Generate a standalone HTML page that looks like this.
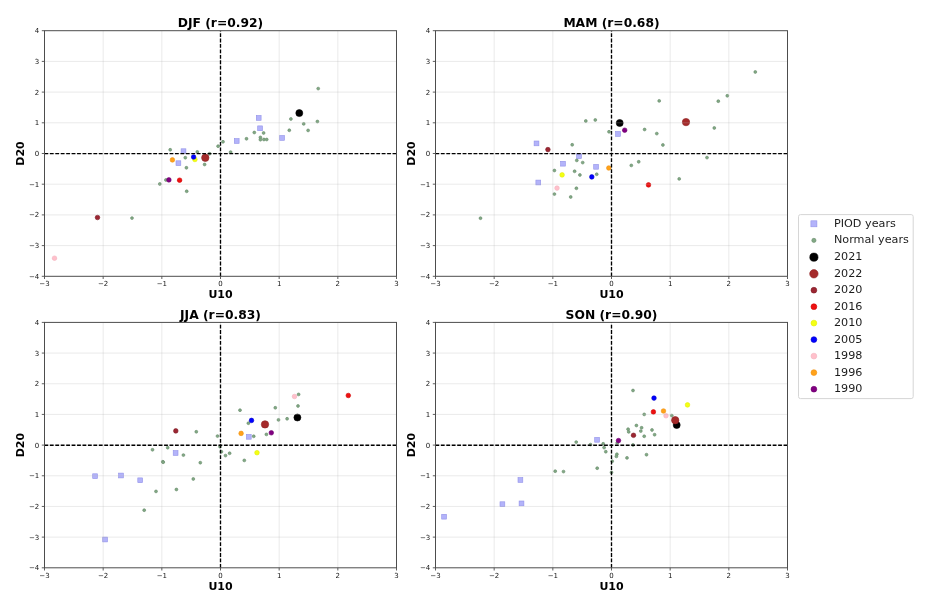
<!DOCTYPE html><html><head><meta charset="utf-8"><title>Scatter U10 vs D20</title><style>html,body{margin:0;padding:0;background:#fff;}svg{display:block;}</style></head><body>
<svg width="927" height="610" viewBox="0 0 927 610" font-family="&quot;DejaVu Sans&quot;, &quot;Liberation Sans&quot;, sans-serif">
<rect x="0" y="0" width="927" height="610" fill="#ffffff"/>
<rect x="181.1" y="148.8" width="4.8" height="4.8" fill="#b3b3fa" stroke="#9292e8" stroke-width="0.6"/>
<rect x="176" y="160.8" width="4.8" height="4.8" fill="#b3b3fa" stroke="#9292e8" stroke-width="0.6"/>
<rect x="234.3" y="138.6" width="4.8" height="4.8" fill="#b3b3fa" stroke="#9292e8" stroke-width="0.6"/>
<rect x="256.3" y="115.5" width="4.8" height="4.8" fill="#b3b3fa" stroke="#9292e8" stroke-width="0.6"/>
<rect x="257.7" y="125.9" width="4.8" height="4.8" fill="#b3b3fa" stroke="#9292e8" stroke-width="0.6"/>
<rect x="279.7" y="135.5" width="4.8" height="4.8" fill="#b3b3fa" stroke="#9292e8" stroke-width="0.6"/>
<circle cx="170.2" cy="149.8" r="1.45" fill="#82a985" stroke="#66896a" stroke-width="0.6"/>
<circle cx="197.3" cy="151.9" r="1.45" fill="#82a985" stroke="#66896a" stroke-width="0.6"/>
<circle cx="209.6" cy="153.7" r="1.45" fill="#82a985" stroke="#66896a" stroke-width="0.6"/>
<circle cx="218.1" cy="146.2" r="1.45" fill="#82a985" stroke="#66896a" stroke-width="0.6"/>
<circle cx="223" cy="141.8" r="1.45" fill="#82a985" stroke="#66896a" stroke-width="0.6"/>
<circle cx="230.6" cy="152.1" r="1.45" fill="#82a985" stroke="#66896a" stroke-width="0.6"/>
<circle cx="246.5" cy="138.8" r="1.45" fill="#82a985" stroke="#66896a" stroke-width="0.6"/>
<circle cx="254.3" cy="132.5" r="1.45" fill="#82a985" stroke="#66896a" stroke-width="0.6"/>
<circle cx="263.6" cy="133" r="1.45" fill="#82a985" stroke="#66896a" stroke-width="0.6"/>
<circle cx="260.4" cy="137.4" r="1.45" fill="#82a985" stroke="#66896a" stroke-width="0.6"/>
<circle cx="260.4" cy="139.7" r="1.45" fill="#82a985" stroke="#66896a" stroke-width="0.6"/>
<circle cx="263.9" cy="139.5" r="1.45" fill="#82a985" stroke="#66896a" stroke-width="0.6"/>
<circle cx="266.7" cy="139.5" r="1.45" fill="#82a985" stroke="#66896a" stroke-width="0.6"/>
<circle cx="290.9" cy="119" r="1.45" fill="#82a985" stroke="#66896a" stroke-width="0.6"/>
<circle cx="303.7" cy="123.9" r="1.45" fill="#82a985" stroke="#66896a" stroke-width="0.6"/>
<circle cx="317.4" cy="121.5" r="1.45" fill="#82a985" stroke="#66896a" stroke-width="0.6"/>
<circle cx="289.3" cy="130.3" r="1.45" fill="#82a985" stroke="#66896a" stroke-width="0.6"/>
<circle cx="308.1" cy="130.4" r="1.45" fill="#82a985" stroke="#66896a" stroke-width="0.6"/>
<circle cx="318.2" cy="88.6" r="1.45" fill="#82a985" stroke="#66896a" stroke-width="0.6"/>
<circle cx="185.3" cy="157.7" r="1.45" fill="#82a985" stroke="#66896a" stroke-width="0.6"/>
<circle cx="186.4" cy="167.8" r="1.45" fill="#82a985" stroke="#66896a" stroke-width="0.6"/>
<circle cx="204.6" cy="164.5" r="1.45" fill="#82a985" stroke="#66896a" stroke-width="0.6"/>
<circle cx="159.8" cy="184" r="1.45" fill="#82a985" stroke="#66896a" stroke-width="0.6"/>
<circle cx="165.9" cy="180" r="1.45" fill="#82a985" stroke="#66896a" stroke-width="0.6"/>
<circle cx="186.7" cy="191.3" r="1.45" fill="#82a985" stroke="#66896a" stroke-width="0.6"/>
<circle cx="132" cy="218.1" r="1.45" fill="#82a985" stroke="#66896a" stroke-width="0.6"/>
<circle cx="299.3" cy="113.1" r="3.5" fill="#000000" stroke="#000000" stroke-width="0.6"/>
<circle cx="205.3" cy="157.8" r="3.7" fill="#a52a2a" stroke="#8f2325" stroke-width="0.6"/>
<circle cx="97.5" cy="217.5" r="2.3" fill="#9c2632" stroke="#7e1c26" stroke-width="0.6"/>
<circle cx="179.6" cy="180.2" r="2.3" fill="#ee1111" stroke="#d00000" stroke-width="0.6"/>
<circle cx="194.9" cy="159.5" r="2.3" fill="#f4ff14" stroke="#e2ee00" stroke-width="0.6"/>
<circle cx="193.6" cy="157" r="2.3" fill="#0000ff" stroke="#0000cc" stroke-width="0.6"/>
<circle cx="54.5" cy="258.2" r="2.3" fill="#ffc0cb" stroke="#f3b3c0" stroke-width="0.6"/>
<circle cx="172.4" cy="159.9" r="2.3" fill="#ffa21a" stroke="#f09010" stroke-width="0.6"/>
<circle cx="168.9" cy="179.9" r="2.3" fill="#800080" stroke="#700070" stroke-width="0.6"/>
<path d="M103.17 30.7V276.3M161.83 30.7V276.3M220.5 30.7V276.3M279.17 30.7V276.3M337.83 30.7V276.3" stroke="#b0b0b0" stroke-opacity="0.3" stroke-width="0.9" fill="none"/>
<path d="M44.5 245.6H396.5M44.5 214.9H396.5M44.5 184.2H396.5M44.5 153.5H396.5M44.5 122.8H396.5M44.5 92.1H396.5M44.5 61.4H396.5" stroke="#b0b0b0" stroke-opacity="0.3" stroke-width="0.9" fill="none"/>
<path d="M44.42 153.65H396.5" stroke="#000" stroke-width="1.35" stroke-dasharray="3.8 1.64" fill="none"/>
<path d="M220.5 276.3V30.7" stroke="#000" stroke-width="1.35" stroke-dasharray="3.8 1.64" fill="none"/>
<rect x="44.5" y="30.7" width="352" height="245.6" fill="none" stroke="#4d4d4d" stroke-width="1"/>
<path d="M44.5 276.3v2.7M103.17 276.3v2.7M161.83 276.3v2.7M220.5 276.3v2.7M279.17 276.3v2.7M337.83 276.3v2.7M396.5 276.3v2.7M44.5 276.3h-2.7M44.5 245.6h-2.7M44.5 214.9h-2.7M44.5 184.2h-2.7M44.5 153.5h-2.7M44.5 122.8h-2.7M44.5 92.1h-2.7M44.5 61.4h-2.7M44.5 30.7h-2.7" stroke="#4d4d4d" stroke-width="0.9" fill="none"/>
<g font-size="7" fill="#141414">
<text x="44.5" y="286.1" text-anchor="middle">−3</text>
<text x="103.17" y="286.1" text-anchor="middle">−2</text>
<text x="161.83" y="286.1" text-anchor="middle">−1</text>
<text x="220.5" y="286.1" text-anchor="middle">0</text>
<text x="279.17" y="286.1" text-anchor="middle">1</text>
<text x="337.83" y="286.1" text-anchor="middle">2</text>
<text x="396.5" y="286.1" text-anchor="middle">3</text>
<text x="39.3" y="278.85" text-anchor="end">−4</text>
<text x="39.3" y="248.15" text-anchor="end">−3</text>
<text x="39.3" y="217.45" text-anchor="end">−2</text>
<text x="39.3" y="186.75" text-anchor="end">−1</text>
<text x="39.3" y="156.05" text-anchor="end">0</text>
<text x="39.3" y="125.35" text-anchor="end">1</text>
<text x="39.3" y="94.65" text-anchor="end">2</text>
<text x="39.3" y="63.95" text-anchor="end">3</text>
<text x="39.3" y="33.25" text-anchor="end">4</text>
</g>
<text x="220.5" y="26.9" text-anchor="middle" font-size="12.3" font-weight="bold" fill="#000">DJF (r=0.92)</text>
<text x="220.5" y="298.4" text-anchor="middle" font-size="11" font-weight="bold" fill="#000">U10</text>
<text transform="translate(24.1 153.5) rotate(-90)" x="0" y="0" text-anchor="middle" font-size="11" font-weight="bold" fill="#000">D20</text>
<rect x="534.1" y="141" width="4.8" height="4.8" fill="#b3b3fa" stroke="#9292e8" stroke-width="0.6"/>
<rect x="576.6" y="153.8" width="4.8" height="4.8" fill="#b3b3fa" stroke="#9292e8" stroke-width="0.6"/>
<rect x="560.6" y="161.3" width="4.8" height="4.8" fill="#b3b3fa" stroke="#9292e8" stroke-width="0.6"/>
<rect x="593.7" y="164.4" width="4.8" height="4.8" fill="#b3b3fa" stroke="#9292e8" stroke-width="0.6"/>
<rect x="535.9" y="180.1" width="4.8" height="4.8" fill="#b3b3fa" stroke="#9292e8" stroke-width="0.6"/>
<rect x="615.6" y="131.5" width="4.8" height="4.8" fill="#b3b3fa" stroke="#9292e8" stroke-width="0.6"/>
<circle cx="585.8" cy="121" r="1.45" fill="#82a985" stroke="#66896a" stroke-width="0.6"/>
<circle cx="595.3" cy="120" r="1.45" fill="#82a985" stroke="#66896a" stroke-width="0.6"/>
<circle cx="609" cy="131.8" r="1.45" fill="#82a985" stroke="#66896a" stroke-width="0.6"/>
<circle cx="572.2" cy="144.8" r="1.45" fill="#82a985" stroke="#66896a" stroke-width="0.6"/>
<circle cx="576.8" cy="160.4" r="1.45" fill="#82a985" stroke="#66896a" stroke-width="0.6"/>
<circle cx="582.7" cy="162.6" r="1.45" fill="#82a985" stroke="#66896a" stroke-width="0.6"/>
<circle cx="554.4" cy="170.5" r="1.45" fill="#82a985" stroke="#66896a" stroke-width="0.6"/>
<circle cx="574.6" cy="171.3" r="1.45" fill="#82a985" stroke="#66896a" stroke-width="0.6"/>
<circle cx="579.9" cy="175" r="1.45" fill="#82a985" stroke="#66896a" stroke-width="0.6"/>
<circle cx="596.7" cy="174.3" r="1.45" fill="#82a985" stroke="#66896a" stroke-width="0.6"/>
<circle cx="576.4" cy="188.3" r="1.45" fill="#82a985" stroke="#66896a" stroke-width="0.6"/>
<circle cx="554.4" cy="194.1" r="1.45" fill="#82a985" stroke="#66896a" stroke-width="0.6"/>
<circle cx="570.7" cy="197" r="1.45" fill="#82a985" stroke="#66896a" stroke-width="0.6"/>
<circle cx="480.5" cy="218.2" r="1.45" fill="#82a985" stroke="#66896a" stroke-width="0.6"/>
<circle cx="659.2" cy="100.9" r="1.45" fill="#82a985" stroke="#66896a" stroke-width="0.6"/>
<circle cx="644.6" cy="129.5" r="1.45" fill="#82a985" stroke="#66896a" stroke-width="0.6"/>
<circle cx="656.8" cy="133.6" r="1.45" fill="#82a985" stroke="#66896a" stroke-width="0.6"/>
<circle cx="662.9" cy="145" r="1.45" fill="#82a985" stroke="#66896a" stroke-width="0.6"/>
<circle cx="631.3" cy="165.4" r="1.45" fill="#82a985" stroke="#66896a" stroke-width="0.6"/>
<circle cx="638.7" cy="161.8" r="1.45" fill="#82a985" stroke="#66896a" stroke-width="0.6"/>
<circle cx="679.2" cy="178.9" r="1.45" fill="#82a985" stroke="#66896a" stroke-width="0.6"/>
<circle cx="707" cy="157.6" r="1.45" fill="#82a985" stroke="#66896a" stroke-width="0.6"/>
<circle cx="714.3" cy="128" r="1.45" fill="#82a985" stroke="#66896a" stroke-width="0.6"/>
<circle cx="718.3" cy="101.2" r="1.45" fill="#82a985" stroke="#66896a" stroke-width="0.6"/>
<circle cx="727.3" cy="95.8" r="1.45" fill="#82a985" stroke="#66896a" stroke-width="0.6"/>
<circle cx="755.3" cy="72" r="1.45" fill="#82a985" stroke="#66896a" stroke-width="0.6"/>
<circle cx="619.7" cy="123" r="3.5" fill="#000000" stroke="#000000" stroke-width="0.6"/>
<circle cx="686" cy="122.1" r="3.7" fill="#a52a2a" stroke="#8f2325" stroke-width="0.6"/>
<circle cx="547.9" cy="149.6" r="2.3" fill="#9c2632" stroke="#7e1c26" stroke-width="0.6"/>
<circle cx="648.5" cy="184.9" r="2.3" fill="#ee1111" stroke="#d00000" stroke-width="0.6"/>
<circle cx="562.1" cy="174.9" r="2.3" fill="#f4ff14" stroke="#e2ee00" stroke-width="0.6"/>
<circle cx="591.8" cy="176.9" r="2.3" fill="#0000ff" stroke="#0000cc" stroke-width="0.6"/>
<circle cx="557" cy="188.1" r="2.3" fill="#ffc0cb" stroke="#f3b3c0" stroke-width="0.6"/>
<circle cx="608.8" cy="168" r="2.3" fill="#ffa21a" stroke="#f09010" stroke-width="0.6"/>
<circle cx="624.7" cy="130.2" r="2.3" fill="#800080" stroke="#700070" stroke-width="0.6"/>
<path d="M494.17 30.7V276.3M552.83 30.7V276.3M611.5 30.7V276.3M670.17 30.7V276.3M728.83 30.7V276.3" stroke="#b0b0b0" stroke-opacity="0.3" stroke-width="0.9" fill="none"/>
<path d="M435.5 245.6H787.5M435.5 214.9H787.5M435.5 184.2H787.5M435.5 153.5H787.5M435.5 122.8H787.5M435.5 92.1H787.5M435.5 61.4H787.5" stroke="#b0b0b0" stroke-opacity="0.3" stroke-width="0.9" fill="none"/>
<path d="M435.42 153.65H787.5" stroke="#000" stroke-width="1.35" stroke-dasharray="3.8 1.64" fill="none"/>
<path d="M611.5 276.3V30.7" stroke="#000" stroke-width="1.35" stroke-dasharray="3.8 1.64" fill="none"/>
<rect x="435.5" y="30.7" width="352" height="245.6" fill="none" stroke="#4d4d4d" stroke-width="1"/>
<path d="M435.5 276.3v2.7M494.17 276.3v2.7M552.83 276.3v2.7M611.5 276.3v2.7M670.17 276.3v2.7M728.83 276.3v2.7M787.5 276.3v2.7M435.5 276.3h-2.7M435.5 245.6h-2.7M435.5 214.9h-2.7M435.5 184.2h-2.7M435.5 153.5h-2.7M435.5 122.8h-2.7M435.5 92.1h-2.7M435.5 61.4h-2.7M435.5 30.7h-2.7" stroke="#4d4d4d" stroke-width="0.9" fill="none"/>
<g font-size="7" fill="#141414">
<text x="435.5" y="286.1" text-anchor="middle">−3</text>
<text x="494.17" y="286.1" text-anchor="middle">−2</text>
<text x="552.83" y="286.1" text-anchor="middle">−1</text>
<text x="611.5" y="286.1" text-anchor="middle">0</text>
<text x="670.17" y="286.1" text-anchor="middle">1</text>
<text x="728.83" y="286.1" text-anchor="middle">2</text>
<text x="787.5" y="286.1" text-anchor="middle">3</text>
<text x="430.3" y="278.85" text-anchor="end">−4</text>
<text x="430.3" y="248.15" text-anchor="end">−3</text>
<text x="430.3" y="217.45" text-anchor="end">−2</text>
<text x="430.3" y="186.75" text-anchor="end">−1</text>
<text x="430.3" y="156.05" text-anchor="end">0</text>
<text x="430.3" y="125.35" text-anchor="end">1</text>
<text x="430.3" y="94.65" text-anchor="end">2</text>
<text x="430.3" y="63.95" text-anchor="end">3</text>
<text x="430.3" y="33.25" text-anchor="end">4</text>
</g>
<text x="611.5" y="26.9" text-anchor="middle" font-size="12.3" font-weight="bold" fill="#000">MAM (r=0.68)</text>
<text x="611.5" y="298.4" text-anchor="middle" font-size="11" font-weight="bold" fill="#000">U10</text>
<text transform="translate(415.1 153.5) rotate(-90)" x="0" y="0" text-anchor="middle" font-size="11" font-weight="bold" fill="#000">D20</text>
<rect x="173.2" y="450.6" width="4.8" height="4.8" fill="#b3b3fa" stroke="#9292e8" stroke-width="0.6"/>
<rect x="246.4" y="434.4" width="4.8" height="4.8" fill="#b3b3fa" stroke="#9292e8" stroke-width="0.6"/>
<rect x="92.7" y="473.8" width="4.8" height="4.8" fill="#b3b3fa" stroke="#9292e8" stroke-width="0.6"/>
<rect x="118.6" y="473.1" width="4.8" height="4.8" fill="#b3b3fa" stroke="#9292e8" stroke-width="0.6"/>
<rect x="137.8" y="477.9" width="4.8" height="4.8" fill="#b3b3fa" stroke="#9292e8" stroke-width="0.6"/>
<rect x="102.7" y="537.1" width="4.8" height="4.8" fill="#b3b3fa" stroke="#9292e8" stroke-width="0.6"/>
<circle cx="298.6" cy="394.4" r="1.45" fill="#82a985" stroke="#66896a" stroke-width="0.6"/>
<circle cx="298" cy="406" r="1.45" fill="#82a985" stroke="#66896a" stroke-width="0.6"/>
<circle cx="275.3" cy="407.8" r="1.45" fill="#82a985" stroke="#66896a" stroke-width="0.6"/>
<circle cx="240" cy="410.2" r="1.45" fill="#82a985" stroke="#66896a" stroke-width="0.6"/>
<circle cx="287.1" cy="418.8" r="1.45" fill="#82a985" stroke="#66896a" stroke-width="0.6"/>
<circle cx="278.5" cy="419.9" r="1.45" fill="#82a985" stroke="#66896a" stroke-width="0.6"/>
<circle cx="248.4" cy="423.2" r="1.45" fill="#82a985" stroke="#66896a" stroke-width="0.6"/>
<circle cx="196.3" cy="431.8" r="1.45" fill="#82a985" stroke="#66896a" stroke-width="0.6"/>
<circle cx="217.5" cy="436.1" r="1.45" fill="#82a985" stroke="#66896a" stroke-width="0.6"/>
<circle cx="253.7" cy="436.3" r="1.45" fill="#82a985" stroke="#66896a" stroke-width="0.6"/>
<circle cx="266.4" cy="434.4" r="1.45" fill="#82a985" stroke="#66896a" stroke-width="0.6"/>
<circle cx="220" cy="446.7" r="1.45" fill="#82a985" stroke="#66896a" stroke-width="0.6"/>
<circle cx="221.4" cy="451.8" r="1.45" fill="#82a985" stroke="#66896a" stroke-width="0.6"/>
<circle cx="225.5" cy="455.6" r="1.45" fill="#82a985" stroke="#66896a" stroke-width="0.6"/>
<circle cx="229.6" cy="453.3" r="1.45" fill="#82a985" stroke="#66896a" stroke-width="0.6"/>
<circle cx="244.3" cy="460.4" r="1.45" fill="#82a985" stroke="#66896a" stroke-width="0.6"/>
<circle cx="152.5" cy="449.8" r="1.45" fill="#82a985" stroke="#66896a" stroke-width="0.6"/>
<circle cx="167.7" cy="447.7" r="1.45" fill="#82a985" stroke="#66896a" stroke-width="0.6"/>
<circle cx="183.4" cy="455.1" r="1.45" fill="#82a985" stroke="#66896a" stroke-width="0.6"/>
<circle cx="162.8" cy="461.8" r="1.45" fill="#82a985" stroke="#66896a" stroke-width="0.6"/>
<circle cx="163.2" cy="462.2" r="1.45" fill="#82a985" stroke="#66896a" stroke-width="0.6"/>
<circle cx="200.3" cy="462.7" r="1.45" fill="#82a985" stroke="#66896a" stroke-width="0.6"/>
<circle cx="193.3" cy="479" r="1.45" fill="#82a985" stroke="#66896a" stroke-width="0.6"/>
<circle cx="156" cy="491.4" r="1.45" fill="#82a985" stroke="#66896a" stroke-width="0.6"/>
<circle cx="176.4" cy="489.5" r="1.45" fill="#82a985" stroke="#66896a" stroke-width="0.6"/>
<circle cx="144.2" cy="510.2" r="1.45" fill="#82a985" stroke="#66896a" stroke-width="0.6"/>
<circle cx="297.4" cy="417.5" r="3.5" fill="#000000" stroke="#000000" stroke-width="0.6"/>
<circle cx="265" cy="424.4" r="3.7" fill="#a52a2a" stroke="#8f2325" stroke-width="0.6"/>
<circle cx="175.8" cy="430.9" r="2.3" fill="#9c2632" stroke="#7e1c26" stroke-width="0.6"/>
<circle cx="348.3" cy="395.5" r="2.3" fill="#ee1111" stroke="#d00000" stroke-width="0.6"/>
<circle cx="257" cy="452.7" r="2.3" fill="#f4ff14" stroke="#e2ee00" stroke-width="0.6"/>
<circle cx="251.5" cy="420.4" r="2.3" fill="#0000ff" stroke="#0000cc" stroke-width="0.6"/>
<circle cx="294.5" cy="396.5" r="2.3" fill="#ffc0cb" stroke="#f3b3c0" stroke-width="0.6"/>
<circle cx="241.1" cy="433.4" r="2.3" fill="#ffa21a" stroke="#f09010" stroke-width="0.6"/>
<circle cx="271.3" cy="432.8" r="2.3" fill="#800080" stroke="#700070" stroke-width="0.6"/>
<path d="M103.17 322.4V567.8M161.83 322.4V567.8M220.5 322.4V567.8M279.17 322.4V567.8M337.83 322.4V567.8" stroke="#b0b0b0" stroke-opacity="0.3" stroke-width="0.9" fill="none"/>
<path d="M44.5 537.12H396.5M44.5 506.45H396.5M44.5 475.77H396.5M44.5 445.1H396.5M44.5 414.42H396.5M44.5 383.75H396.5M44.5 353.07H396.5" stroke="#b0b0b0" stroke-opacity="0.3" stroke-width="0.9" fill="none"/>
<path d="M44.42 445.25H396.5" stroke="#000" stroke-width="1.35" stroke-dasharray="3.8 1.64" fill="none"/>
<path d="M220.5 567.8V322.4" stroke="#000" stroke-width="1.35" stroke-dasharray="3.8 1.64" fill="none"/>
<rect x="44.5" y="322.4" width="352" height="245.4" fill="none" stroke="#4d4d4d" stroke-width="1"/>
<path d="M44.5 567.8v2.7M103.17 567.8v2.7M161.83 567.8v2.7M220.5 567.8v2.7M279.17 567.8v2.7M337.83 567.8v2.7M396.5 567.8v2.7M44.5 567.8h-2.7M44.5 537.12h-2.7M44.5 506.45h-2.7M44.5 475.77h-2.7M44.5 445.1h-2.7M44.5 414.42h-2.7M44.5 383.75h-2.7M44.5 353.07h-2.7M44.5 322.4h-2.7" stroke="#4d4d4d" stroke-width="0.9" fill="none"/>
<g font-size="7" fill="#141414">
<text x="44.5" y="577.6" text-anchor="middle">−3</text>
<text x="103.17" y="577.6" text-anchor="middle">−2</text>
<text x="161.83" y="577.6" text-anchor="middle">−1</text>
<text x="220.5" y="577.6" text-anchor="middle">0</text>
<text x="279.17" y="577.6" text-anchor="middle">1</text>
<text x="337.83" y="577.6" text-anchor="middle">2</text>
<text x="396.5" y="577.6" text-anchor="middle">3</text>
<text x="39.3" y="570.35" text-anchor="end">−4</text>
<text x="39.3" y="539.67" text-anchor="end">−3</text>
<text x="39.3" y="509" text-anchor="end">−2</text>
<text x="39.3" y="478.32" text-anchor="end">−1</text>
<text x="39.3" y="447.65" text-anchor="end">0</text>
<text x="39.3" y="416.97" text-anchor="end">1</text>
<text x="39.3" y="386.3" text-anchor="end">2</text>
<text x="39.3" y="355.62" text-anchor="end">3</text>
<text x="39.3" y="324.95" text-anchor="end">4</text>
</g>
<text x="220.5" y="318.6" text-anchor="middle" font-size="12.3" font-weight="bold" fill="#000">JJA (r=0.83)</text>
<text x="220.5" y="589.9" text-anchor="middle" font-size="11" font-weight="bold" fill="#000">U10</text>
<text transform="translate(24.1 445.1) rotate(-90)" x="0" y="0" text-anchor="middle" font-size="11" font-weight="bold" fill="#000">D20</text>
<rect x="594.7" y="437.4" width="4.8" height="4.8" fill="#b3b3fa" stroke="#9292e8" stroke-width="0.6"/>
<rect x="518" y="477.6" width="4.8" height="4.8" fill="#b3b3fa" stroke="#9292e8" stroke-width="0.6"/>
<rect x="500" y="501.8" width="4.8" height="4.8" fill="#b3b3fa" stroke="#9292e8" stroke-width="0.6"/>
<rect x="519.1" y="501" width="4.8" height="4.8" fill="#b3b3fa" stroke="#9292e8" stroke-width="0.6"/>
<rect x="441.7" y="514.3" width="4.8" height="4.8" fill="#b3b3fa" stroke="#9292e8" stroke-width="0.6"/>
<circle cx="633" cy="390.5" r="1.45" fill="#82a985" stroke="#66896a" stroke-width="0.6"/>
<circle cx="644.2" cy="414.4" r="1.45" fill="#82a985" stroke="#66896a" stroke-width="0.6"/>
<circle cx="671.8" cy="415.6" r="1.45" fill="#82a985" stroke="#66896a" stroke-width="0.6"/>
<circle cx="636.4" cy="425.5" r="1.45" fill="#82a985" stroke="#66896a" stroke-width="0.6"/>
<circle cx="628.1" cy="429.2" r="1.45" fill="#82a985" stroke="#66896a" stroke-width="0.6"/>
<circle cx="628.7" cy="431.9" r="1.45" fill="#82a985" stroke="#66896a" stroke-width="0.6"/>
<circle cx="641.6" cy="427.8" r="1.45" fill="#82a985" stroke="#66896a" stroke-width="0.6"/>
<circle cx="640.8" cy="431.1" r="1.45" fill="#82a985" stroke="#66896a" stroke-width="0.6"/>
<circle cx="652" cy="430" r="1.45" fill="#82a985" stroke="#66896a" stroke-width="0.6"/>
<circle cx="654.6" cy="434.7" r="1.45" fill="#82a985" stroke="#66896a" stroke-width="0.6"/>
<circle cx="644.2" cy="436.3" r="1.45" fill="#82a985" stroke="#66896a" stroke-width="0.6"/>
<circle cx="633" cy="445" r="1.45" fill="#82a985" stroke="#66896a" stroke-width="0.6"/>
<circle cx="603.2" cy="443.8" r="1.45" fill="#82a985" stroke="#66896a" stroke-width="0.6"/>
<circle cx="604.1" cy="447.6" r="1.45" fill="#82a985" stroke="#66896a" stroke-width="0.6"/>
<circle cx="605.8" cy="451.7" r="1.45" fill="#82a985" stroke="#66896a" stroke-width="0.6"/>
<circle cx="616.9" cy="454.3" r="1.45" fill="#82a985" stroke="#66896a" stroke-width="0.6"/>
<circle cx="616.4" cy="456.4" r="1.45" fill="#82a985" stroke="#66896a" stroke-width="0.6"/>
<circle cx="627" cy="457.9" r="1.45" fill="#82a985" stroke="#66896a" stroke-width="0.6"/>
<circle cx="612.2" cy="461.3" r="1.45" fill="#82a985" stroke="#66896a" stroke-width="0.6"/>
<circle cx="597.2" cy="468.2" r="1.45" fill="#82a985" stroke="#66896a" stroke-width="0.6"/>
<circle cx="555.2" cy="471.2" r="1.45" fill="#82a985" stroke="#66896a" stroke-width="0.6"/>
<circle cx="563.5" cy="471.6" r="1.45" fill="#82a985" stroke="#66896a" stroke-width="0.6"/>
<circle cx="611.5" cy="472.4" r="1.45" fill="#82a985" stroke="#66896a" stroke-width="0.6"/>
<circle cx="576.2" cy="442.1" r="1.45" fill="#82a985" stroke="#66896a" stroke-width="0.6"/>
<circle cx="590.5" cy="444.6" r="1.45" fill="#82a985" stroke="#66896a" stroke-width="0.6"/>
<circle cx="646.5" cy="454.7" r="1.45" fill="#82a985" stroke="#66896a" stroke-width="0.6"/>
<circle cx="617.2" cy="442.9" r="1.45" fill="#82a985" stroke="#66896a" stroke-width="0.6"/>
<circle cx="676.7" cy="425" r="3.5" fill="#000000" stroke="#000000" stroke-width="0.6"/>
<circle cx="675.2" cy="420.2" r="3.7" fill="#a52a2a" stroke="#8f2325" stroke-width="0.6"/>
<circle cx="633.5" cy="435.3" r="2.3" fill="#9c2632" stroke="#7e1c26" stroke-width="0.6"/>
<circle cx="653.4" cy="411.9" r="2.3" fill="#ee1111" stroke="#d00000" stroke-width="0.6"/>
<circle cx="687.5" cy="404.9" r="2.3" fill="#f4ff14" stroke="#e2ee00" stroke-width="0.6"/>
<circle cx="654" cy="398.1" r="2.3" fill="#0000ff" stroke="#0000cc" stroke-width="0.6"/>
<circle cx="666" cy="415.8" r="2.3" fill="#ffc0cb" stroke="#f3b3c0" stroke-width="0.6"/>
<circle cx="663.5" cy="411" r="2.3" fill="#ffa21a" stroke="#f09010" stroke-width="0.6"/>
<circle cx="618.5" cy="440.6" r="2.3" fill="#800080" stroke="#700070" stroke-width="0.6"/>
<path d="M494.17 322.4V567.8M552.83 322.4V567.8M611.5 322.4V567.8M670.17 322.4V567.8M728.83 322.4V567.8" stroke="#b0b0b0" stroke-opacity="0.3" stroke-width="0.9" fill="none"/>
<path d="M435.5 537.12H787.5M435.5 506.45H787.5M435.5 475.77H787.5M435.5 445.1H787.5M435.5 414.42H787.5M435.5 383.75H787.5M435.5 353.07H787.5" stroke="#b0b0b0" stroke-opacity="0.3" stroke-width="0.9" fill="none"/>
<path d="M435.42 445.25H787.5" stroke="#000" stroke-width="1.35" stroke-dasharray="3.8 1.64" fill="none"/>
<path d="M611.5 567.8V322.4" stroke="#000" stroke-width="1.35" stroke-dasharray="3.8 1.64" fill="none"/>
<rect x="435.5" y="322.4" width="352" height="245.4" fill="none" stroke="#4d4d4d" stroke-width="1"/>
<path d="M435.5 567.8v2.7M494.17 567.8v2.7M552.83 567.8v2.7M611.5 567.8v2.7M670.17 567.8v2.7M728.83 567.8v2.7M787.5 567.8v2.7M435.5 567.8h-2.7M435.5 537.12h-2.7M435.5 506.45h-2.7M435.5 475.77h-2.7M435.5 445.1h-2.7M435.5 414.42h-2.7M435.5 383.75h-2.7M435.5 353.07h-2.7M435.5 322.4h-2.7" stroke="#4d4d4d" stroke-width="0.9" fill="none"/>
<g font-size="7" fill="#141414">
<text x="435.5" y="577.6" text-anchor="middle">−3</text>
<text x="494.17" y="577.6" text-anchor="middle">−2</text>
<text x="552.83" y="577.6" text-anchor="middle">−1</text>
<text x="611.5" y="577.6" text-anchor="middle">0</text>
<text x="670.17" y="577.6" text-anchor="middle">1</text>
<text x="728.83" y="577.6" text-anchor="middle">2</text>
<text x="787.5" y="577.6" text-anchor="middle">3</text>
<text x="430.3" y="570.35" text-anchor="end">−4</text>
<text x="430.3" y="539.67" text-anchor="end">−3</text>
<text x="430.3" y="509" text-anchor="end">−2</text>
<text x="430.3" y="478.32" text-anchor="end">−1</text>
<text x="430.3" y="447.65" text-anchor="end">0</text>
<text x="430.3" y="416.97" text-anchor="end">1</text>
<text x="430.3" y="386.3" text-anchor="end">2</text>
<text x="430.3" y="355.62" text-anchor="end">3</text>
<text x="430.3" y="324.95" text-anchor="end">4</text>
</g>
<text x="611.5" y="318.6" text-anchor="middle" font-size="12.3" font-weight="bold" fill="#000">SON (r=0.90)</text>
<text x="611.5" y="589.9" text-anchor="middle" font-size="11" font-weight="bold" fill="#000">U10</text>
<text transform="translate(415.1 445.1) rotate(-90)" x="0" y="0" text-anchor="middle" font-size="11" font-weight="bold" fill="#000">D20</text>
<rect x="798.5" y="214.6" width="114.7" height="184" rx="2" ry="2" fill="#fff" stroke="#d6d6d6" stroke-width="1"/>
<rect x="810.9" y="220.8" width="6" height="6" fill="#b3b3fa" stroke="#9292e8" stroke-width="0.6"/>
<circle cx="813.9" cy="240.4" r="2.1" fill="#82a985" stroke="#66896a" stroke-width="0.6"/>
<circle cx="813.9" cy="257.2" r="4.1" fill="#000000" stroke="#000000" stroke-width="0.6"/>
<circle cx="813.9" cy="273.8" r="4.2" fill="#a52a2a" stroke="#8f2325" stroke-width="0.6"/>
<circle cx="813.9" cy="290.2" r="2.9" fill="#9c2632" stroke="#7e1c26" stroke-width="0.6"/>
<circle cx="813.9" cy="306.7" r="2.9" fill="#ee1111" stroke="#d00000" stroke-width="0.6"/>
<circle cx="813.9" cy="323.1" r="2.9" fill="#f4ff14" stroke="#e2ee00" stroke-width="0.6"/>
<circle cx="813.9" cy="339.6" r="2.9" fill="#0000ff" stroke="#0000cc" stroke-width="0.6"/>
<circle cx="813.9" cy="356.1" r="2.9" fill="#ffc0cb" stroke="#f3b3c0" stroke-width="0.6"/>
<circle cx="813.9" cy="372.6" r="2.9" fill="#ffa21a" stroke="#f09010" stroke-width="0.6"/>
<circle cx="813.9" cy="389.2" r="2.9" fill="#800080" stroke="#700070" stroke-width="0.6"/>
<g font-size="11.2" fill="#1c1c1c">
<text x="834" y="226.8">PIOD years</text>
<text x="834" y="243.4">Normal years</text>
<text x="834" y="260.2">2021</text>
<text x="834" y="276.8">2022</text>
<text x="834" y="293.2">2020</text>
<text x="834" y="309.7">2016</text>
<text x="834" y="326.1">2010</text>
<text x="834" y="342.6">2005</text>
<text x="834" y="359.1">1998</text>
<text x="834" y="375.6">1996</text>
<text x="834" y="392.2">1990</text>
</g>
</svg></body></html>
